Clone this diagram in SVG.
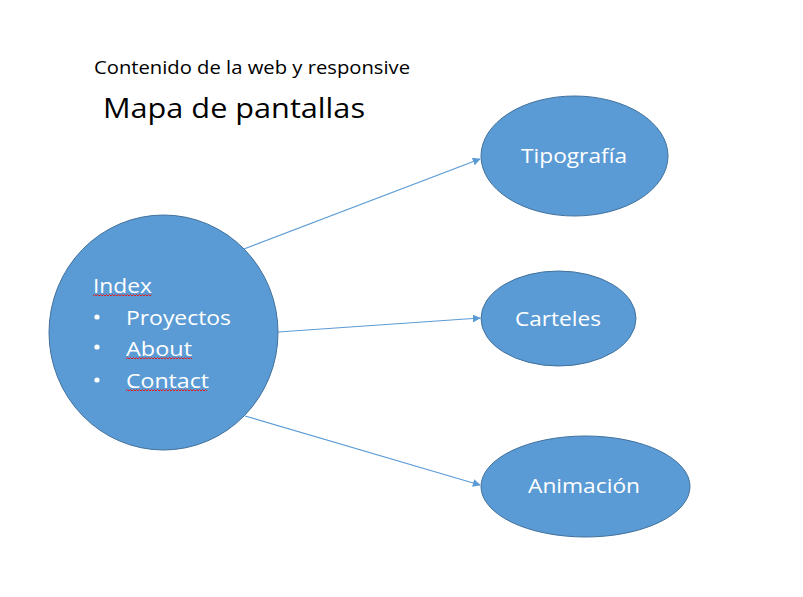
<svg xmlns="http://www.w3.org/2000/svg" width="803" height="597" viewBox="0 0 803 597">
<defs>
<style>
.node{fill:#5B9BD5;stroke:#41719C;stroke-width:1}
.lbl{fill:#fff;font-family:"Open Sans","Noto Sans",sans-serif;font-size:20px}
.ttl{fill:#000;font-family:"Open Sans","Noto Sans",sans-serif}
.edge{stroke:#5B9BD5;stroke-width:1.2;fill:none;marker-end:url(#ah)}
.sq{stroke:#E02020;stroke-width:1;fill:none}
</style>
<marker id="ah" viewBox="0 0 10 10" refX="9" refY="5" markerWidth="8" markerHeight="8" markerUnits="userSpaceOnUse" orient="auto">
<path d="M0,0 L10,5 L0,10 z" fill="#5B9BD5"/>
</marker>
</defs>
<rect width="803" height="597" fill="#fff"/>
<text class="ttl" x="94" y="74" font-size="18" textLength="316" lengthAdjust="spacingAndGlyphs">Contenido de la web y responsive</text>
<text class="ttl" x="103" y="118" font-size="28" textLength="262" lengthAdjust="spacingAndGlyphs">Mapa de pantallas</text>
<g id="connectors">
<line class="edge" x1="244" y1="249" x2="480" y2="159"/>
<line class="edge" x1="278" y1="332" x2="480" y2="318"/>
<line class="edge" x1="245" y1="416" x2="480" y2="485"/>
</g>
<g id="index">
<ellipse class="node" cx="163.5" cy="332.5" rx="114.5" ry="117.5"/>
<text class="lbl" x="93" y="293" font-size="21" textLength="59" lengthAdjust="spacingAndGlyphs">Index</text>
<circle cx="97" cy="317" r="2.6" fill="#fff"/>
<circle cx="97" cy="347" r="2.6" fill="#fff"/>
<circle cx="97" cy="380" r="2.6" fill="#fff"/>
<text class="lbl" x="126" y="325" font-size="21" textLength="105" lengthAdjust="spacingAndGlyphs">Proyectos</text>
<text class="lbl" x="126" y="356" font-size="21" textLength="66" lengthAdjust="spacingAndGlyphs">About</text>
<text class="lbl" x="126" y="388" font-size="21" textLength="83" lengthAdjust="spacingAndGlyphs">Contact</text>
<path class="sq" d="M93,296 l1.5,-1.5 l1.5,1.5 l1.5,-1.5 l1.5,1.5 l1.5,-1.5 l1.5,1.5 l1.5,-1.5 l1.5,1.5 l1.5,-1.5 l1.5,1.5 l1.5,-1.5 l1.5,1.5 l1.5,-1.5 l1.5,1.5 l1.5,-1.5 l1.5,1.5 l1.5,-1.5 l1.5,1.5 l1.5,-1.5 l1.5,1.5 l1.5,-1.5 l1.5,1.5 l1.5,-1.5 l1.5,1.5 l1.5,-1.5 l1.5,1.5 l1.5,-1.5 l1.5,1.5 l1.5,-1.5 l1.5,1.5 l1.5,-1.5 l1.5,1.5 l1.5,-1.5 l1.5,1.5 l1.5,-1.5 l1.5,1.5 l1.5,-1.5 l1.5,1.5 l1.5,-1.5"/>
<path class="sq" d="M126,359 l1.5,-1.5 l1.5,1.5 l1.5,-1.5 l1.5,1.5 l1.5,-1.5 l1.5,1.5 l1.5,-1.5 l1.5,1.5 l1.5,-1.5 l1.5,1.5 l1.5,-1.5 l1.5,1.5 l1.5,-1.5 l1.5,1.5 l1.5,-1.5 l1.5,1.5 l1.5,-1.5 l1.5,1.5 l1.5,-1.5 l1.5,1.5 l1.5,-1.5 l1.5,1.5 l1.5,-1.5 l1.5,1.5 l1.5,-1.5 l1.5,1.5 l1.5,-1.5 l1.5,1.5 l1.5,-1.5 l1.5,1.5 l1.5,-1.5 l1.5,1.5 l1.5,-1.5 l1.5,1.5 l1.5,-1.5 l1.5,1.5 l1.5,-1.5 l1.5,1.5 l1.5,-1.5 l1.5,1.5 l1.5,-1.5 l1.5,1.5 l1.5,-1.5 l1.5,1.5"/>
<path class="sq" d="M126,391 l1.5,-1.5 l1.5,1.5 l1.5,-1.5 l1.5,1.5 l1.5,-1.5 l1.5,1.5 l1.5,-1.5 l1.5,1.5 l1.5,-1.5 l1.5,1.5 l1.5,-1.5 l1.5,1.5 l1.5,-1.5 l1.5,1.5 l1.5,-1.5 l1.5,1.5 l1.5,-1.5 l1.5,1.5 l1.5,-1.5 l1.5,1.5 l1.5,-1.5 l1.5,1.5 l1.5,-1.5 l1.5,1.5 l1.5,-1.5 l1.5,1.5 l1.5,-1.5 l1.5,1.5 l1.5,-1.5 l1.5,1.5 l1.5,-1.5 l1.5,1.5 l1.5,-1.5 l1.5,1.5 l1.5,-1.5 l1.5,1.5 l1.5,-1.5 l1.5,1.5 l1.5,-1.5 l1.5,1.5 l1.5,-1.5 l1.5,1.5 l1.5,-1.5 l1.5,1.5 l1.5,-1.5 l1.5,1.5 l1.5,-1.5 l1.5,1.5 l1.5,-1.5 l1.5,1.5 l1.5,-1.5 l1.5,1.5 l1.5,-1.5 l1.5,1.5"/>
</g>
<g id="tipografia">
<ellipse class="node" cx="574.5" cy="156" rx="93.5" ry="60"/>
<text class="lbl" x="574" y="163" text-anchor="middle" textLength="106" lengthAdjust="spacingAndGlyphs">Tipografía</text>
</g>
<g id="carteles">
<ellipse class="node" cx="558.5" cy="318.5" rx="77.5" ry="47.5"/>
<text class="lbl" x="558" y="326" text-anchor="middle" textLength="86" lengthAdjust="spacingAndGlyphs">Carteles</text>
</g>
<g id="animacion">
<ellipse class="node" cx="585.5" cy="486.5" rx="104.5" ry="50.5"/>
<text class="lbl" x="584" y="493" text-anchor="middle" textLength="112" lengthAdjust="spacingAndGlyphs">Animación</text>
</g>
</svg>
